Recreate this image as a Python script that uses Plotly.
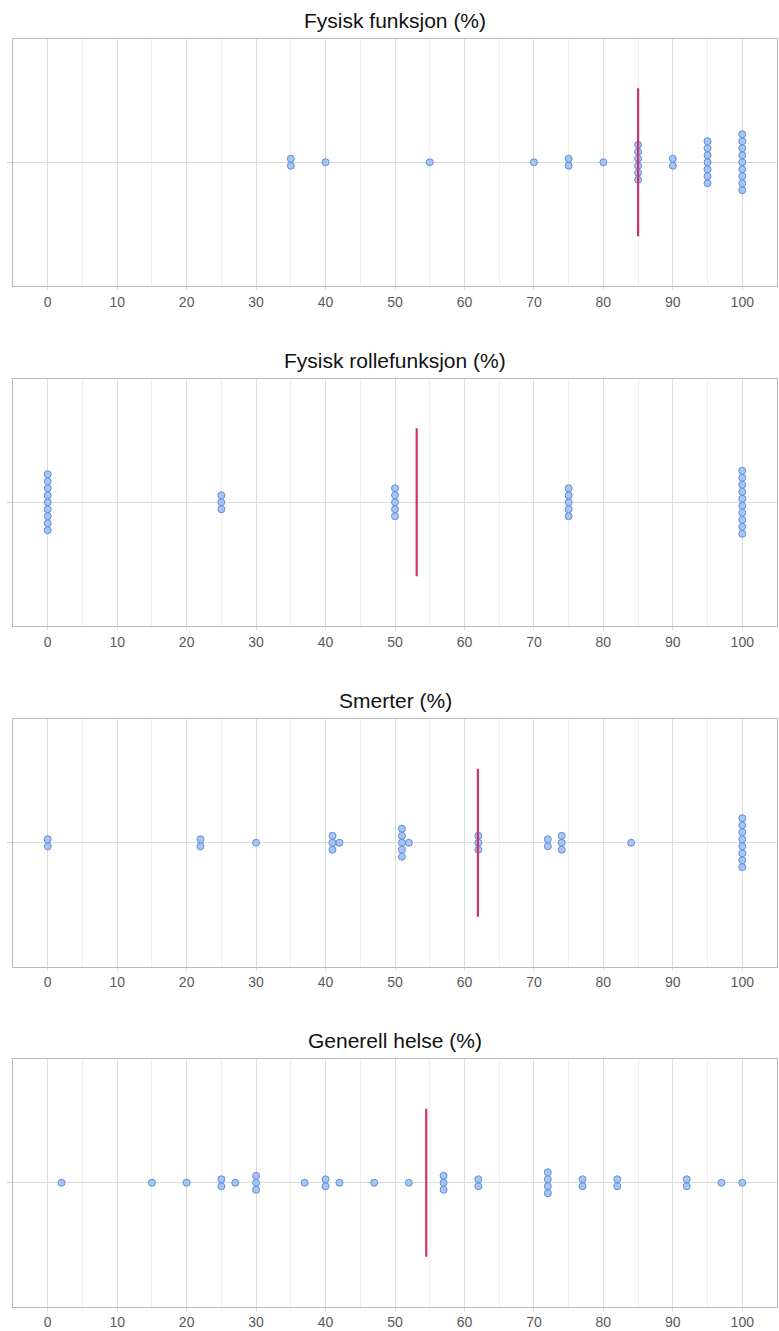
import plotly.graph_objects as go

# Scores per respondent (value, count) for each SF-36 subscale
titles = ["Fysisk funksjon (%)", "Fysisk rollefunksjon (%)", "Smerter (%)", "Generell helse (%)"]

fysisk_funksjon_values = [35, 40, 55, 70, 75, 80, 85, 90, 95, 100]
fysisk_funksjon_counts = [2, 1, 1, 1, 2, 1, 6, 2, 7, 9]

rollefunksjon_values = [0, 25, 50, 75, 100]
rollefunksjon_counts = [9, 3, 5, 5, 10]

smerter_values = [0, 22, 30, 41, 42, 51, 52, 62, 72, 74, 84, 100]
smerter_counts = [2, 2, 1, 3, 1, 5, 1, 3, 2, 3, 1, 8]

generell_helse_values = [2, 15, 20, 25, 27, 30, 37, 40, 42, 47, 52, 57, 62, 72, 77, 82, 92, 97, 100]
generell_helse_counts = [1, 1, 1, 2, 1, 3, 1, 2, 1, 1, 1, 3, 2, 4, 2, 2, 2, 1, 1]

x_ticks = [0, 10, 20, 30, 40, 50, 60, 70, 80, 90, 100]

panels = [
    (fysisk_funksjon_values, fysisk_funksjon_counts),
    (rollefunksjon_values, rollefunksjon_counts),
    (smerter_values, smerter_counts),
    (generell_helse_values, generell_helse_counts),
]

W, H = 779, 1331
box_tops = [38.5, 378.5, 719, 1059]
box_h = 247.5
half_range = box_h / 2 / 7.0   # y axis in dot-step units
mean_half = 74 / 7.0

fig = go.Figure()
annotations = []
shapes = []

for i, ((vals, cnts), title) in enumerate(zip(panels, titles)):
    n = i + 1
    xs, ys = [], []
    for v, c in zip(vals, cnts):
        for k in range(c):
            xs.append(v)
            ys.append(k - (c - 1) / 2)
    total = sum(cnts)
    mean = sum(v * c for v, c in zip(vals, cnts)) / total

    xa = "x" if n == 1 else f"x{n}"
    ya = "y" if n == 1 else f"y{n}"

    fig.add_trace(go.Scatter(
        x=xs, y=ys, mode="markers", xaxis=xa, yaxis=ya,
        marker=dict(size=7, color="#a8c4f0", line=dict(color="#5f8fdc", width=1)),
        showlegend=False, hoverinfo="x",
    ))
    shapes.append(dict(type="line", xref=xa, yref=ya, x0=mean, x1=mean,
                       y0=-mean_half, y1=mean_half,
                       line=dict(color="#cf316f", width=2.2), layer="above"))

    top = 1 - box_tops[i] / H
    bot = 1 - (box_tops[i] + box_h) / H
    axis_x = dict(
        domain=[0, 1], range=[-5, 105], tickvals=x_ticks,
        showgrid=True, gridcolor="#dcdcdc", gridwidth=1,
        minor=dict(dtick=5, tick0=0, showgrid=True, gridcolor="#eeeeee", gridwidth=1),
        showline=True, linecolor="#b8b8b8", linewidth=1, mirror=True,
        ticks="outside", ticklen=3, tickcolor="#dcdcdc",
        tickfont=dict(family="Liberation Sans, Arial, sans-serif", size=14, color="#5a5a5a"),
        zeroline=False, fixedrange=True, anchor=ya, automargin=False,
    )
    axis_y = dict(
        domain=[bot, top], range=[-half_range, half_range],
        tickvals=[0], showticklabels=False, ticks="outside", ticklen=5, tickcolor="#cfcfcf",
        showgrid=True, gridcolor="#dcdcdc", zeroline=False,
        showline=True, linecolor="#b8b8b8", linewidth=1, mirror=True,
        fixedrange=True, anchor=xa, automargin=False,
    )
    fig.layout["xaxis" if n == 1 else f"xaxis{n}"] = axis_x
    fig.layout["yaxis" if n == 1 else f"yaxis{n}"] = axis_y

    annotations.append(dict(
        text=title, xref="paper", yref="paper", x=0.5, y=top, yshift=5,
        xanchor="center", yanchor="bottom", showarrow=False,
        font=dict(family="Liberation Sans, Arial, sans-serif", size=21, color="#111111"),
    ))

fig.update_layout(
    width=W, height=H,
    margin=dict(l=13, r=2, t=0, b=0, autoexpand=False),
    plot_bgcolor="white", paper_bgcolor="white",
    annotations=annotations, shapes=shapes,
)

fig.write_html("out.html")
